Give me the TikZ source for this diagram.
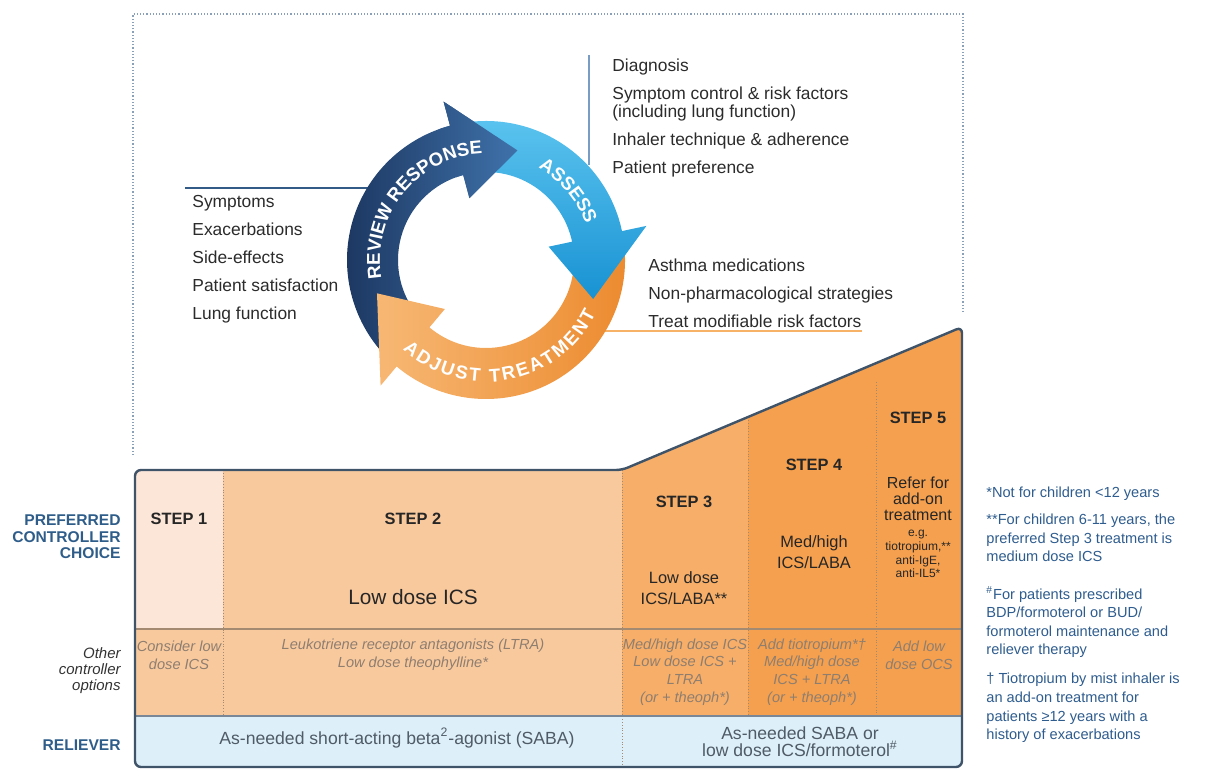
\documentclass[tikz,border=0pt]{standalone}
\usepackage{fontspec}
\setmainfont{Liberation Sans}
\usetikzlibrary{decorations.text}

\definecolor{navydark}{HTML}{1B355F}
\definecolor{navylight}{HTML}{3F72AA}
\definecolor{skydark}{HTML}{1892D3}
\definecolor{skylight}{HTML}{5CC4EF}
\definecolor{amberdark}{HTML}{EC8A2E}
\definecolor{amberlight}{HTML}{F7B874}
\definecolor{stepone}{HTML}{FCE6D8}
\definecolor{steptwo}{HTML}{F9C99E}
\definecolor{stepthree}{HTML}{F7AE68}
\definecolor{stepfour}{HTML}{F5A04E}
\definecolor{reliefblue}{HTML}{DDEFF9}
\definecolor{edgeslate}{HTML}{3F5369}
\definecolor{divgray}{HTML}{A58A72}
\definecolor{othergray}{HTML}{8E7E70}
\definecolor{relgray}{HTML}{4F5B66}
\definecolor{headblue}{HTML}{2F5D8A}
\definecolor{noteblue}{HTML}{2E5C8E}
\definecolor{listgray}{HTML}{2B2B2B}
\definecolor{framedot}{HTML}{8AA0B8}

\newcommand{\setfs}[2]{\fontsize{#1}{#2}\selectfont}

\begin{document}
\begin{tikzpicture}[x=0.5pt,y=0.5pt,
    listitem/.style={anchor=base west, inner sep=0pt, font=\setfs{8.7}{10}, text=listgray},
    steptitle/.style={font=\bfseries\setfs{8.2}{10}, text=black!85},
    stepdrug/.style={align=center, font=\setfs{8.2}{10.3}, text=black!85},
    otheropt/.style={align=center, font=\itshape\setfs{7.3}{8.8}, text=othergray},
    relieftext/.style={align=center, font=\setfs{8.8}{8.6}, text=relgray},
    rowhead/.style={align=right, anchor=east, inner sep=0pt, font=\bfseries\setfs{7.8}{8.3}, text=headblue},
    footnote/.style={align=left, anchor=west, inner sep=0pt, font=\setfs{7.3}{9.3}, text=noteblue},
    divider/.style={draw=divgray, line width=0.4pt, densely dotted},
    bluearrow/.style={left color=navydark, right color=navylight},
    skyarrow/.style={top color=skylight, bottom color=skydark},
    amberarrow/.style={left color=amberlight, right color=amberdark},
    ringtext/.style={decorate, decoration={text along path, text align=center, text color=white, text={|\bfseries\setfs{9.3}{11}|#1}}},
    ringfit/.style={decorate, decoration={text along path, text align=fit to path, text color=white, text={|\bfseries\setfs{9.3}{11}|#1}}}]

\useasboundingbox (0,0) rectangle (1205,-769);

% dotted frame round the cycle
\draw[framedot, densely dotted, line width=0.6pt] (133,-455) -- (133,-14) -- (963,-14) -- (963,-312);

% lists beside the cycle
\foreach \y/\txt [count=\i] in {72/Diagnosis, 100/Symptom control \& risk factors, 118/(including lung function), 146/Inhaler technique \& adherence, 174/Patient preference}
  \node[listitem] (assess\i) at (612,-\y) {\txt};
\foreach \y/\txt [count=\i] in {208/Symptoms, 236/Exacerbations, 264/Side-effects, 292/Patient satisfaction, 320/Lung function}
  \node[listitem] (review\i) at (192,-\y) {\txt};
\foreach \y/\txt [count=\i] in {272/Asthma medications, 300/Non-pharmacological strategies, 328/Treat modifiable risk factors}
  \node[listitem] (adjust\i) at (648,-\y) {\txt};

\draw[navylight!80!black, line width=0.8pt] (185,-188) coordinate (reviewtick) -- (380,-188);
\draw[navylight!70, line width=0.8pt] (589,-55) coordinate (assesstick) -- (589,-165);
\draw[amberlight!90!orange, line width=0.9pt] (600,-331) -- (862,-331) coordinate (adjusttick);

% the cycle
\begin{scope}[shift={(486,-260)}]
  \def\ringarrow#1#2#3{(#1:139) arc[start angle=#1, end angle=#2, radius=139] -- (#2:164) -- (#3:114) -- (#2:64) -- (#2:88) arc[start angle=#2, end angle=#1, radius=88] -- cycle}
  \shade[bluearrow] \ringarrow{220}{105}{74};
  \shade[amberarrow] \ringarrow{5}{-130}{-163};
  \shade[skyarrow] \ringarrow{95}{12}{-20};
  \begin{scope}
    \clip (0,0) -- (110:200) arc[start angle=110, end angle=60, radius=200] -- cycle;
    \shade[bluearrow] \ringarrow{220}{105}{74};
  \end{scope}
  \path[ringtext=REVIEW RESPONSE] (194:106) arc[start angle=194, end angle=88, radius=106];
  \path[ringtext=ASSESS] (78:106) arc[start angle=78, end angle=2, radius=106];
  \path[ringfit=ADJUST TREATMENT] (227:122) arc[start angle=227, end angle=334, radius=122];
\end{scope}

% step table
\def\tableshape{(135,-767) -- (135,-470) -- (622,-470) -- (962,-327) -- (962,-767) -- cycle}
\begin{scope}
  \clip[rounded corners=3pt] \tableshape;
  \fill[stepone] (135,-470) rectangle (223,-629);
  \fill[steptwo] (223,-470) rectangle (622,-629);
  \fill[steptwo] (135,-629) rectangle (622,-716);
  \fill[stepthree] (622,-300) rectangle (748,-716);
  \fill[stepfour] (748,-300) rectangle (962,-716);
  \fill[reliefblue] (135,-716) rectangle (962,-767);
\end{scope}
\draw[divider] (223,-470) -- (223,-716);
\draw[divider] (622,-470) -- (622,-767);
\draw[divider] (748,-420) -- (748,-716);
\draw[divider] (876,-382) -- (876,-716);
\draw[divgray, line width=0.6pt] (135,-629) -- (962,-629);
\draw[edgeslate!70, line width=0.6pt] (135,-716) -- (962,-716);
\draw[edgeslate, line width=1.2pt, rounded corners=3pt] \tableshape;

\node[steptitle] (step1) at (179,-519) {STEP 1};
\node[steptitle] (step2) at (413,-519) {STEP 2};
\node[font=\setfs{10.4}{12}, text=black!85] (step2drug) at (413,-597) {Low dose ICS};
\node[steptitle] (step3) at (684,-502) {STEP 3};
\node[stepdrug] (step3drug) at (684,-588) {Low dose\\ICS/LABA**};
\node[steptitle] (step4) at (814,-465) {STEP 4};
\node[stepdrug, font=\setfs{8.2}{10.5}] (step4drug) at (814,-552) {Med/high\\ICS/LABA};
\node[steptitle] (step5) at (918,-418) {STEP 5};
\node[stepdrug, font=\setfs{8}{8}] (step5drug) at (918,-499) {Refer for\\add-on\\treatment};
\node[stepdrug, font=\setfs{6}{6.9}] (step5eg) at (918,-554) {e.g.\\tiotropium,**\\anti-IgE,\\anti-IL5*};

\node[otheropt] (other1) at (179,-655) {Consider low\\dose ICS};
\node[otheropt] (other2) at (413,-655) {Leukotriene receptor antagonists (LTRA)\\Low dose theophylline*};
\node[otheropt] (other3) at (685,-672) {Med/high dose ICS\\Low dose ICS +\\LTRA\\(or + theoph*)};
\node[otheropt] (other4) at (812,-672) {Add tiotropium*†\\Med/high dose\\ICS + LTRA\\(or + theoph*)};
\node[otheropt] (other5) at (919,-655) {Add low\\dose OCS};

\node[relieftext] (relief12) at (397,-738) {As-needed short-acting beta\textsuperscript{2}-agonist (SABA)};
\node[relieftext] (relief345) at (800,-742) {As-needed SABA or\\low dose ICS/formoterol\textsuperscript{\#}};

% row headings
\node[rowhead] (prefhead) at (121,-537) {PREFERRED\\CONTROLLER\\CHOICE};
\node[rowhead, font=\itshape\setfs{7.5}{8}, text=black!80] (otherhead) at (121,-671) {Other\\controller\\options};
\node[rowhead] (relhead) at (121,-745) {RELIEVER};

% footnotes
\node[footnote] (note1) at (986,-494) {*Not for children <12 years};
\node[footnote] (note2) at (986,-538) {**For children 6-11 years, the\\preferred Step 3 treatment is\\medium dose ICS};
\node[footnote] (note3) at (986,-622) {\textsuperscript{\#}For patients prescribed\\BDP/formoterol or BUD/\\formoterol maintenance and\\reliever therapy};
\node[footnote] (note4) at (986,-708) {† Tiotropium by mist inhaler is\\an add-on treatment for\\patients ≥12 years with a\\history of exacerbations};
\end{tikzpicture}
\end{document}
